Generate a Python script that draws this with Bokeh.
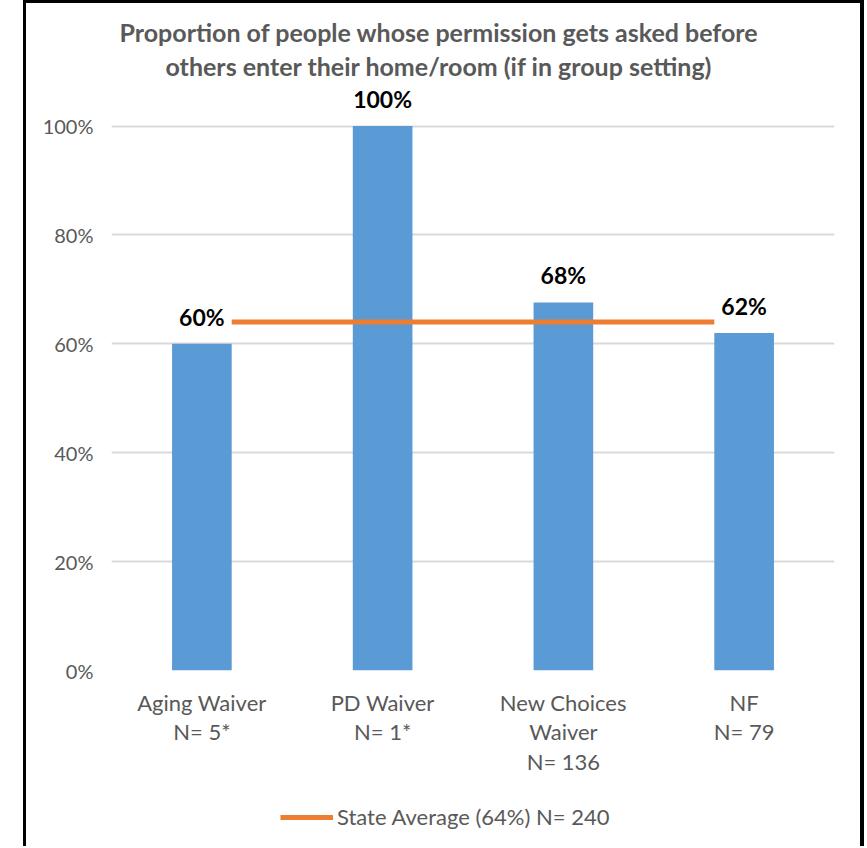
from bokeh.plotting import figure
from bokeh.layouts import column
from bokeh.models import (ColumnDataSource, LabelSet, Legend, LegendItem, Title,
                          FixedTicker, NumeralTickFormatter, Range1d)
from bokeh.core.properties import value
from bokeh.embed import file_html
from bokeh.resources import INLINE

# ---- data ----
categories = ["Aging Waiver\nN= 5*", "PD Waiver\nN= 1*", "New Choices\nWaiver\nN= 136", "NF\nN= 79"]
values = [0.60, 1.00, 0.676, 0.62]
value_labels = ["60%", "100%", "68%", "62%"]
state_average = 0.64
state_label = "State Average (64%) N= 240"
title_lines = ["Proportion of people whose permission gets asked before",
               "others enter their home/room (if in group setting)"]
y_ticks = [0, 0.2, 0.4, 0.6, 0.8, 1.0]

BAR_COLOR = "#5B9BD5"
AVG_COLOR = "#ED7D31"
GREY = "#595959"
FONT = "Lato"
BAR_W = 0.33
CANVAS_W = 834

idx = list(range(len(categories)))

p = figure(frame_width=723, frame_height=588, output_backend="svg", toolbar_location=None,
           x_range=(-0.5, len(categories) - 0.5), y_range=(0, 1.08),
           min_border_left=85, min_border_right=26, min_border_top=79,
           min_border_bottom=112, title=None)
p.outline_line_color = None
p.background_fill_color = "white"
p.border_fill_color = "white"

src = ColumnDataSource(dict(x=idx, top=values, lab=value_labels))
p.vbar(x="x", top="top", width=BAR_W, source=src, fill_color=BAR_COLOR, line_color=None)

p.segment(x0=[idx[0] + BAR_W / 2], x1=[idx[-1] - BAR_W / 2],
          y0=[state_average], y1=[state_average],
          line_color=AVG_COLOR, line_width=5)

labels = LabelSet(x="x", y="top", text="lab", source=src, text_align="center",
                  text_baseline="bottom", y_offset=13, text_font=value(FONT),
                  text_font_style="bold", text_font_size="23px", text_color="black")
p.add_layout(labels)

# title: two lines, second added first so it sits closest to the plot
p.add_layout(Title(text=title_lines[1], align="left", offset=54, text_font=FONT,
                   text_font_style="bold", text_font_size="25px", text_color=GREY,
                   standoff=4), "above")
p.add_layout(Title(text=title_lines[0], align="left", offset=8, text_font=FONT,
                   text_font_style="bold", text_font_size="25px", text_color=GREY,
                   standoff=0), "above")

# axes
p.yaxis.ticker = FixedTicker(ticks=y_ticks)
p.yaxis.formatter = NumeralTickFormatter(format="0%")
p.xaxis.ticker = FixedTicker(ticks=idx)
p.xaxis.major_label_overrides = {i: c for i, c in zip(idx, categories)}
for ax in (p.xaxis[0], p.yaxis[0]):
    ax.axis_line_color = None
    ax.major_tick_line_color = None
    ax.minor_tick_line_color = None
    ax.major_tick_out = 0
    ax.major_tick_in = 0
    ax.major_label_text_font = FONT
    ax.major_label_text_color = GREY
p.yaxis.major_label_text_font_size = "20px"
p.xaxis.major_label_text_font_size = "22px"
p.yaxis.major_label_standoff = 18
p.xaxis.major_label_standoff = 18
p.xaxis.major_label_text_line_height = 1.1

p.xgrid.grid_line_color = None
p.ygrid.ticker = FixedTicker(ticks=y_ticks)
p.ygrid.grid_line_color = "#D9D9D9"
p.ygrid.grid_line_width = 2

# legend strip below the chart (its sample line lies outside this strip's ranges)
leg_fig = figure(width=CANVAS_W, height=64, output_backend="svg", toolbar_location=None,
                 x_axis_type=None, y_axis_type=None, x_range=Range1d(100, 101),
                 y_range=Range1d(100, 101), min_border=0, title=None)
leg_fig.outline_line_color = None
leg_fig.grid.visible = False
avg_leg = leg_fig.segment(x0=[idx[0] + BAR_W / 2], x1=[idx[-1] - BAR_W / 2],
                          y0=[state_average], y1=[state_average],
                          line_color=AVG_COLOR, line_width=5)
legend = Legend(items=[LegendItem(label=state_label, renderers=[avg_leg])],
                location=(169, 16), orientation="horizontal",
                glyph_width=53, label_standoff=4, border_line_color=None,
                label_text_font=FONT, label_text_font_size="22px",
                label_text_color=GREY, background_fill_alpha=0, padding=4, margin=0)
leg_fig.add_layout(legend)

layout = column(p, leg_fig, spacing=0)
layout.styles = {"border-left": "3px solid black", "border-top": "3px solid black",
                 "border-right": "4px solid black", "margin-left": "23px"}
open("out.html", "w").write(file_html(layout, INLINE))
